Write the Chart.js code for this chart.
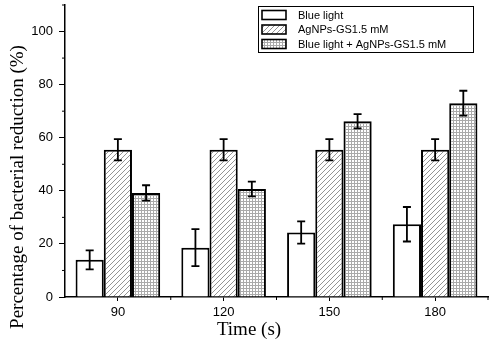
<!DOCTYPE html>
<html>
<head>
<meta charset="utf-8">
<script src="https://cdn.jsdelivr.net/npm/chart.js@4/dist/chart.umd.min.js"></script>
<style>
  html, body { margin: 0; padding: 0; background: #fff; }
  canvas { display: block; }
</style>
</head>
<body>
<canvas id="chart" width="497" height="351"></canvas>
<script>
'use strict';

const categories = ['90', '120', '150', '180'];
const seriesLabels = ['Blue light', 'AgNPs-GS1.5 mM', 'Blue light + AgNPs-GS1.5 mM'];
const blueLight = [14, 18.6, 24.3, 27.4];
const blueLightErr = [3.6, 7, 4.2, 6.5];
const agnps = [55.5, 55.5, 55.5, 55.5];
const agnpsErr = [4, 4, 4, 4];
const combined = [39.2, 40.7, 66.2, 73];
const combinedErr = [2.9, 2.8, 2.7, 4.7];
const yTicks = [0, 20, 40, 60, 80, 100];
const yMinorTicks = [10, 30, 50, 70, 90, 110];

// fill patterns
function hatchPattern() {
  const c = document.createElement('canvas');
  c.width = 5; c.height = 5;
  const g = c.getContext('2d');
  g.fillStyle = '#fff';
  g.fillRect(0, 0, 5, 5);
  g.strokeStyle = '#888';
  g.lineWidth = 0.9;
  g.beginPath();
  g.moveTo(-1, 6); g.lineTo(6, -1);
  g.moveTo(-1, 1); g.lineTo(1, -1);
  g.moveTo(4, 6); g.lineTo(6, 4);
  g.stroke();
  return g.createPattern(c, 'repeat');
}

function gridPattern() {
  const c = document.createElement('canvas');
  c.width = 3; c.height = 3;
  const g = c.getContext('2d');
  g.fillStyle = '#fff';
  g.fillRect(0, 0, 3, 3);
  g.fillStyle = '#aaa';
  g.fillRect(0, 0, 3, 1);
  g.fillRect(0, 0, 1, 3);
  return g.createPattern(c, 'repeat');
}

const fills = ['#fff', hatchPattern(), gridPattern()];

const extras = {
  id: 'extras',
  afterDatasetsDraw(chart) {
    const ctx = chart.ctx;
    const y = chart.scales.y;
    const x = chart.scales.x;
    ctx.save();
    // error bars
    ctx.strokeStyle = '#000';
    ctx.lineWidth = 1.8;
    chart.data.datasets.forEach((ds, i) => {
      chart.getDatasetMeta(i).data.forEach((bar, j) => {
        const top = y.getPixelForValue(ds.data[j] + ds.errors[j]);
        const bot = y.getPixelForValue(ds.data[j] - ds.errors[j]);
        ctx.beginPath();
        ctx.moveTo(bar.x, top); ctx.lineTo(bar.x, bot);
        ctx.moveTo(bar.x - 4, top); ctx.lineTo(bar.x + 4, top);
        ctx.moveTo(bar.x - 4, bot); ctx.lineTo(bar.x + 4, bot);
        ctx.stroke();
      });
    });
    // minor ticks
    ctx.lineWidth = 1;
    ctx.beginPath();
    yMinorTicks.forEach(v => {
      const py = y.getPixelForValue(v);
      ctx.moveTo(x.left - 3, py); ctx.lineTo(x.left, py);
    });
    const half = (x.getPixelForValue(1) - x.getPixelForValue(0)) / 2;
    categories.forEach((c, i) => {
      const px = x.getPixelForValue(i) + half;
      ctx.moveTo(px, y.bottom); ctx.lineTo(px, y.bottom + 3);
    });
    ctx.stroke();

    // axis titles
    ctx.fillStyle = '#000';
    ctx.font = '19px "Liberation Serif", serif';
    ctx.textAlign = 'center';
    ctx.textBaseline = 'middle';
    ctx.fillText('Time (s)', 249, 330);
    ctx.translate(18, 187);
    ctx.rotate(-Math.PI / 2);
    ctx.fillText('Percentage of bacterial reduction (%)', 0, 0);
    ctx.setTransform(1, 0, 0, 1, 0, 0);

    // legend
    ctx.lineWidth = 1;
    ctx.strokeRect(258.5, 6.5, 215, 46);
    ctx.font = '11px "Liberation Sans", sans-serif';
    ctx.textAlign = 'left';
    seriesLabels.forEach((label, i) => {
      const cy = 15 + i * 14.5;
      ctx.fillStyle = fills[i];
      ctx.fillRect(262, cy - 4.5, 24, 9);
      ctx.lineWidth = 1.6;
      ctx.strokeRect(262, cy - 4.5, 24, 9);
      ctx.fillStyle = '#000';
      ctx.fillText(label, 298, cy + 0.5);
    });
    ctx.restore();
  }
};

const series = [
  [blueLight, blueLightErr],
  [agnps, agnpsErr],
  [combined, combinedErr]
];

new Chart(document.getElementById('chart'), {
  type: 'bar',
  data: {
    labels: categories,
    datasets: series.map((s, i) => ({
      label: seriesLabels[i],
      data: s[0],
      errors: s[1],
      backgroundColor: fills[i],
      borderColor: '#000',
      borderWidth: 2,
      barPercentage: 1,
      categoryPercentage: 0.8
    }))
  },
  options: {
    responsive: false,
    animation: false,
    devicePixelRatio: 1,
    layout: { padding: { top: 5, right: 9, left: 0, bottom: 0 } },
    plugins: { legend: { display: false }, tooltip: { enabled: false } },
    scales: {
      x: {
        offset: true,
        grid: { drawOnChartArea: false, offset: false, color: '#000', tickLength: 4 },
        border: { color: '#000', width: 1.5 },
        ticks: { color: '#000', padding: 4, font: { family: 'Liberation Sans', size: 13 } },
        afterFit(s) { s.height = 54; }
      },
      y: {
        min: 0,
        max: 110,
        afterBuildTicks(s) { s.ticks = yTicks.map(v => ({ value: v })); },
        grid: { drawOnChartArea: false, color: '#000', tickLength: 6 },
        border: { color: '#000', width: 1.5 },
        ticks: { color: '#000', padding: 6, font: { family: 'Liberation Sans', size: 13 } },
        afterFit(s) { s.width = 65; s.paddingTop = 0; s.paddingBottom = 0; }
      }
    }
  },
  plugins: [extras]
});
</script>
</body>
</html>
